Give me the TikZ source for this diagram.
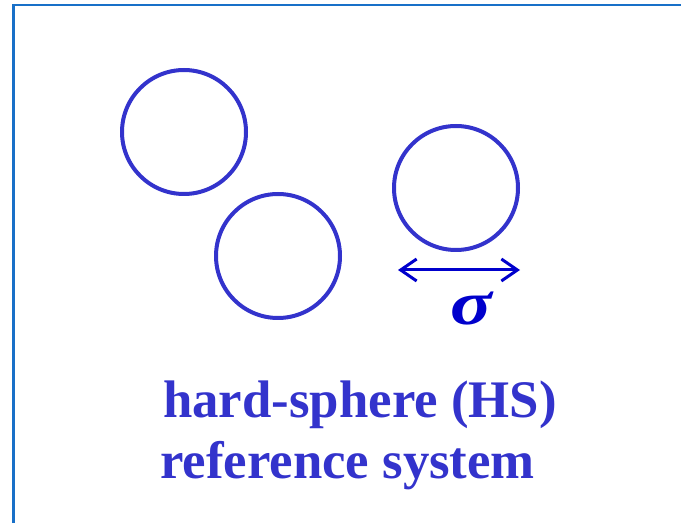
\documentclass[tikz,border=0pt]{standalone}
\usepackage{fontspec}
\setmainfont{Liberation Serif}
\newfontfamily\sigfont{Liberation Serif}
\usetikzlibrary{arrows.meta}
\definecolor{framec}{RGB}{24,112,200}
\definecolor{ballc}{RGB}{51,51,204}
\definecolor{arrc}{RGB}{0,0,204}
\begin{document}
\begin{tikzpicture}[x=1pt,y=1pt,
  ball/.style={circle,draw=ballc,line width=4pt,minimum size=124pt,inner sep=0pt},
  lbl/.style={text=ballc,font=\fontsize{52.8}{60}\selectfont\bfseries,inner sep=0pt,anchor=base west}]
\useasboundingbox (0,0) rectangle (681,523);
\coordinate (fa) at (13.5,0);
\coordinate (fb) at (13.5,518);
\coordinate (fc) at (681,518);
\draw[framec,line width=2.6pt] (fa) -- (fb) -- (fc);
\node[ball] (b1) at (184,391) {};
\node[ball] (b2) at (278,267) {};
\node[ball] (b3) at (456,335) {};
\coordinate (al) at (398,253);
\coordinate (ar) at (520,253);
\draw[arrc,line width=3pt,{Straight Barb[length=16pt,width=22pt]}-{Straight Barb[length=16pt,width=22pt]}] (al) -- (ar);
\node[text=arrc,inner sep=0pt,anchor=base,xscale=1.25] (sig) at (471,198) {\fontsize{62}{70}\selectfont\sigfont\bfseries\itshape σ};
\node[lbl] (t1) at (163,106) {hard-sphere (HS)};
\node[lbl] (t2) at (160,45) {reference system};
\end{tikzpicture}
\end{document}
